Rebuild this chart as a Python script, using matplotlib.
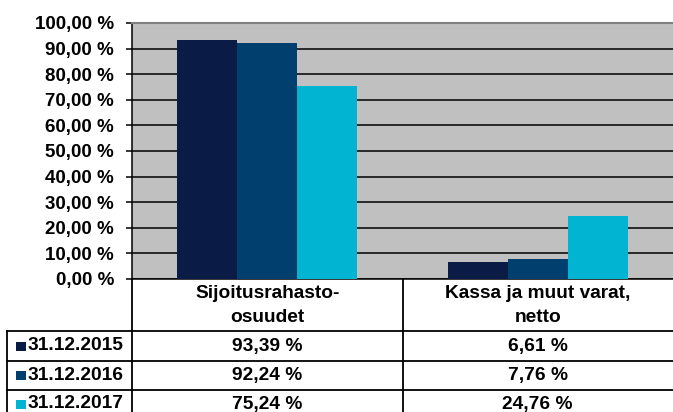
import matplotlib
matplotlib.use("Agg")
import matplotlib.pyplot as plt
import matplotlib.transforms as mtransforms
from matplotlib.patches import Rectangle
import numpy as np

categories = ["Sijoitusrahasto-\nosuudet", "Kassa ja muut varat,\nnetto"]
series_names = ["31.12.2015", "31.12.2016", "31.12.2017"]
values = {
    "31.12.2015": [93.39, 6.61],
    "31.12.2016": [92.24, 7.76],
    "31.12.2017": [75.24, 24.76],
}
colors = ["#0A1C45", "#003F6E", "#00B4D2"]
yticks = [0, 10, 20, 30, 40, 50, 60, 70, 80, 90, 100]

def fmt(v):
    return f"{v:.2f}".replace(".", ",") + " %"

plt.rcParams['font.family'] = ['Liberation Sans', 'DejaVu Sans']
W, H = 673, 412
fig = plt.figure(figsize=(W / 100, H / 100), dpi=100)

def fy(py):
    return 1 - py / H

def fx(px):
    return px / W

ax = fig.add_axes([fx(132), fy(279), fx(673) - fx(132), fy(23) - fy(279)])
ax.set_facecolor("#C0C0C0")
x = np.arange(len(categories))
bw = 0.2222
for i, name in enumerate(series_names):
    ax.bar(x + (i - 1) * bw, values[name], width=bw, color=colors[i],
           linewidth=0, zorder=3)
ax.set_xlim(-0.5, len(categories) - 0.5)
ax.set_ylim(0, 100)
ax.set_yticks(yticks)
ax.set_yticklabels([fmt(t) for t in yticks], fontsize=13.5, fontweight="bold")
ax.yaxis.grid(True, color="black", linewidth=1.1, zorder=1)
ax.set_xticks([])
ax.tick_params(axis="y", length=4.5, width=1.1, color="black", pad=8.5)
ax.spines["right"].set_visible(False)
ax.spines["top"].set_color("#808080")
ax.spines["top"].set_linewidth(1.5)
ax.spines["left"].set_color("black")
ax.spines["left"].set_linewidth(1.1)
ax.spines["bottom"].set_color("black")
ax.spines["bottom"].set_linewidth(1.1)

# data table below the plot
bt = mtransforms.blended_transform_factory(ax.transData, fig.transFigure)
ft = fig.transFigure
lw = 1.3
row_lines = [331, 361, 390, 420]
row_centers = [346, 375.5, 404]
bounds = np.arange(len(categories) + 1) - 0.5

for b in bounds[:-1]:
    fig.add_artist(plt.Line2D([b, b], [fy(279), fy(420)], transform=bt,
                              color="black", linewidth=lw, clip_on=False))
fig.add_artist(plt.Line2D([fx(7), fx(7)], [fy(331), fy(420)], transform=ft,
                          color="black", linewidth=lw))
for ry in row_lines:
    fig.add_artist(plt.Line2D([fx(7), fx(673)], [fy(ry), fy(ry)], transform=ft,
                              color="black", linewidth=lw))

for i, c in enumerate(categories):
    fig.text(x[i], fy(305.5), c, transform=bt, ha="center", va="center",
             fontsize=13.8, fontweight="bold", linespacing=1.6)

for r, name in enumerate(series_names):
    yc = fy(row_centers[r])
    fig.add_artist(Rectangle((fx(16), yc - 4.5 / H), 10 / W, 9 / H,
                             transform=ft, color=colors[r], linewidth=0))
    fig.text(fx(28), yc, name, transform=ft, ha="left", va="center",
             fontsize=13.8, fontweight="bold")
    for i in range(len(categories)):
        fig.text(x[i], yc, fmt(values[name][i]), transform=bt, ha="center",
                 va="center", fontsize=13.8, fontweight="bold")

fig.savefig("out.png", dpi=100)
